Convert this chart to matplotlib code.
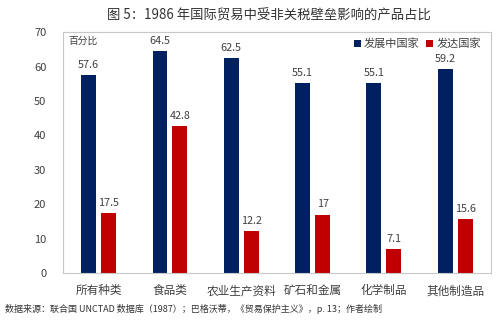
import numpy as np
import matplotlib.pyplot as plt

plt.rcParams['font.family'] = ['Noto Sans CJK SC', 'DejaVu Sans']

categories = ['所有种类', '食品类', '农业生产资料', '矿石和金属', '化学制品', '其他制造品']
developing = [57.6, 64.5, 62.5, 55.1, 55.1, 59.2]
developed = [17.5, 42.8, 12.2, 17, 7.1, 15.6]
yticks = [0, 10, 20, 30, 40, 50, 60, 70]

navy = '#002060'
red = '#C00000'
txt = '#404040'

fig = plt.figure(figsize=(5.02, 3.24), dpi=100)
ax = fig.add_axes([0.1255, 0.157, 0.8525, 0.744])

x = np.arange(len(categories))
w = 0.21
b1 = ax.bar(x - 0.14, developing, w, color=navy, label='发展中国家')
b2 = ax.bar(x + 0.14, developed, w, color=red, label='发达国家')

for bars in (b1, b2):
    for r in bars:
        v = r.get_height()
        ax.text(r.get_x() + r.get_width() / 2, v + 1.5, '%g' % v,
                ha='center', va='bottom', fontsize=7.8, color=txt)

ax.set_xlim(-0.5, 5.5)
ax.set_ylim(0, 70)
ax.set_yticks(yticks)
ax.set_xticks(x)
ax.set_xticklabels(categories)
ax.tick_params(axis='both', length=0, labelsize=8, colors=txt)
ax.tick_params(axis='x', labelsize=8.4, pad=8)
ax.tick_params(axis='y', pad=12)
for s in ax.spines.values():
    s.set_color('#c8c8c8')
    s.set_linewidth(0.8)

ax.text(0.012, 0.985, '百分比', transform=ax.transAxes, ha='left', va='top',
        fontsize=7, color=txt)
ax.legend(loc='upper right', bbox_to_anchor=(1.0, 1.015), ncol=2, frameon=False,
          fontsize=8, handlelength=0.6, handleheight=0.6, handletextpad=0.3,
          columnspacing=0.6, labelcolor=txt)

fig.text(0.535, 0.953, '图 5：1986 年国际贸易中受非关税壁垒影响的产品占比',
         ha='center', va='center', fontsize=9.6, color='#333333')
fig.text(0.01, 0.045, '数据来源：联合国 UNCTAD 数据库（1987）；巴格沃蒂，《贸易保护主义》，p. 13；作者绘制',
         ha='left', va='center', fontsize=6.5, color='#333333')

fig.savefig('out.png', dpi=100)
